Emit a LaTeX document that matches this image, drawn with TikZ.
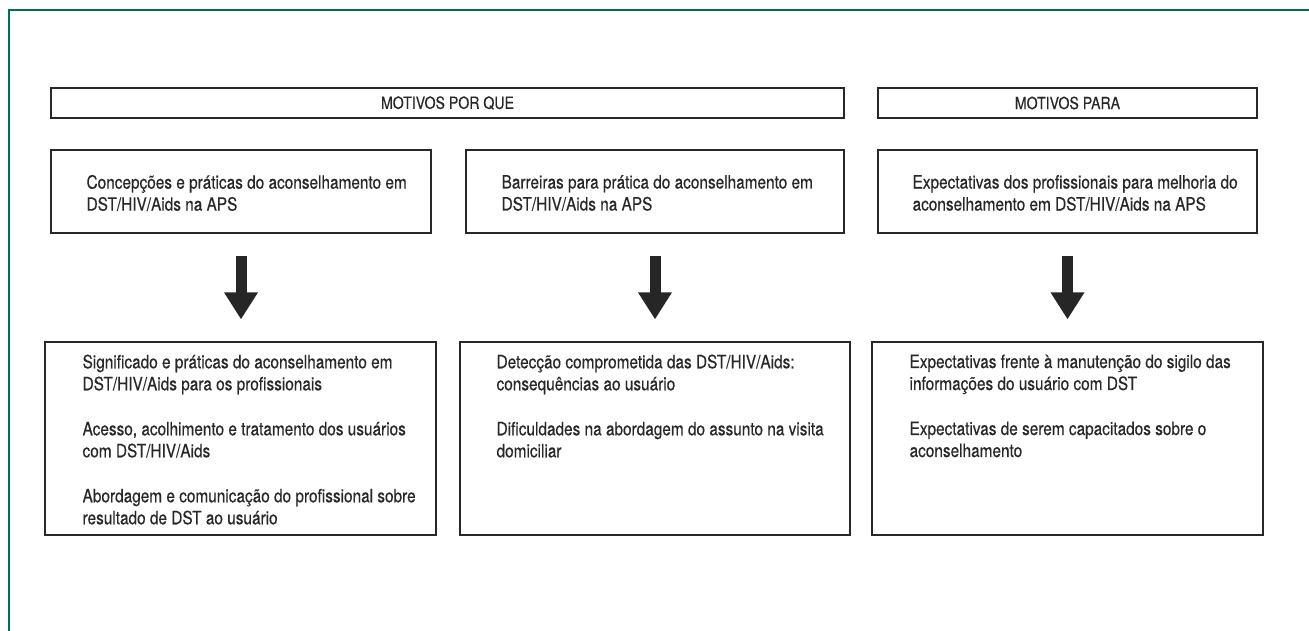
\documentclass[tikz,border=0pt]{standalone}
\usepackage{fontspec}
\setmainfont{TeX Gyre Heros}[FakeStretch=0.84,FakeBold=0.4]
\usetikzlibrary{positioning,arrows.meta}
\definecolor{framegreen}{RGB}{0,110,90}
\definecolor{boxgray}{RGB}{40,40,40}
\newcommand{\hdrfont}{\fontsize{16.8}{18}\selectfont}
\newcommand{\bodyfont}{\fontsize{18.3}{22}\selectfont}
\tikzset{
  hdrbox/.style={draw=boxgray, line width=1.2pt, minimum height=30pt, inner sep=0pt, font=\hdrfont, text=boxgray},
  topbox/.style={draw=boxgray, line width=1.2pt, minimum height=83pt, inner sep=0pt},
  lowbox/.style={draw=boxgray, line width=1.2pt, minimum height=193pt, inner sep=0pt},
  boxtext/.style={align=left, inner sep=0pt, font=\bodyfont, text=boxgray},
  bigarrow/.style={draw=black!85, line width=11pt, -{Triangle[width=32pt,length=27pt]}, shorten <=22pt, shorten >=22pt}
}
\begin{document}
\begin{tikzpicture}[x=1pt,y=-1pt]
\useasboundingbox (0,0) rectangle (1309,631);
\draw [framegreen, line width=1.2pt] (9,631) -- (9,10) -- (1309,10);
\node [hdrbox, minimum width=793pt] (porque) at (447.5,103) {MOTIVOS POR QUE};
\node [hdrbox, minimum width=379pt] (para) at (1067.5,103) {MOTIVOS PARA};
\node [topbox, minimum width=380pt] (concep) at (241,191.5) {};
\node [topbox, minimum width=378pt] (barr) at (655,191.5) {};
\node [topbox, minimum width=379pt] (expec) at (1067.5,191.5) {};
\node [lowbox, minimum width=391pt] (signif) at (240.5,438.5) {};
\node [lowbox, minimum width=390pt] (detec) at (655,438.5) {};
\node [lowbox, minimum width=391pt] (sigilo) at (1067.5,438.5) {};
\node [boxtext, right=36pt of concep.west, yshift=-1.5pt] (concept) {Concepções e práticas do aconselhamento em\\DST/HIV/Aids na APS};
\node [boxtext, right=36pt of barr.west, yshift=-1.5pt] (barrt) {Barreiras para prática do aconselhamento em\\DST/HIV/Aids na APS};
\node [boxtext, right=35pt of expec.west, yshift=-1.5pt] (expect) {Expectativas dos profissionais para melhoria do\\aconselhamento em DST/HIV/Aids na APS};
\node [boxtext, below right=13pt and 38pt of signif.north west] (signift) {Significado e práticas do aconselhamento em\\DST/HIV/Aids para os profissionais\\[23pt]Acesso, acolhimento e tratamento dos usuários\\com DST/HIV/Aids\\[23pt]Abordagem e comunicação do profissional sobre\\resultado de DST ao usuário};
\node [boxtext, below right=13pt and 37pt of detec.north west] (detect) {Detecção comprometida das DST/HIV/Aids:\\consequências ao usuário\\[23pt]Dificuldades na abordagem do assunto na visita\\domiciliar};
\node [boxtext, below right=13pt and 38pt of sigilo.north west] (sigilot) {Expectativas frente à manutenção do sigilo das\\informações do usuário com DST\\[23pt]Expectativas de serem capacitados sobre o\\aconselhamento};
\draw [bigarrow] (concep.south) -- (concep.south |- signif.north);
\draw [bigarrow] (barr.south) -- (barr.south |- detec.north);
\draw [bigarrow] (expec.south) -- (expec.south |- sigilo.north);
\end{tikzpicture}
\end{document}
